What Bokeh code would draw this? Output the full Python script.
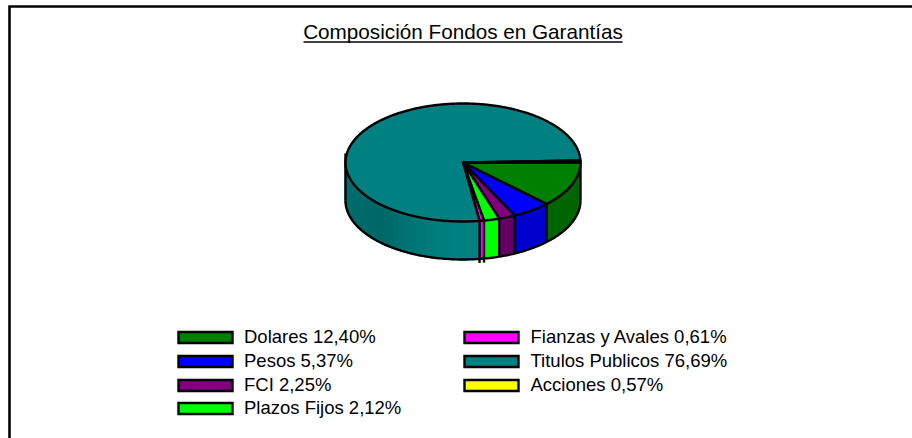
import numpy as np
from bokeh.plotting import figure
from bokeh.models import Range1d
from bokeh.core.properties import value
from bokeh.embed import file_html
from bokeh.resources import INLINE

title = "Composición Fondos en Garantías"
categories = ["Dolares", "Pesos", "FCI", "Plazos Fijos", "Fianzas y Avales", "Titulos Publicos", "Acciones"]
percent_labels = ["12,40%", "5,37%", "2,25%", "2,12%", "0,61%", "76,69%", "0,57%"]
values = [12.40, 5.37, 2.25, 2.12, 0.61, 76.69, 0.57]
colors = ["#008000", "#0000FF", "#800080", "#00FF00", "#FF00FF", "#008080", "#FFFF00"]
side_factor = [0.78, 0.80, 0.78, 1.0, 1.0, 1.0, 0.8]

W, H = 912, 438
CX, CY, RX, RY, DEPTH = 462.5, 162, 117.5, 59, 38
FONT = value("Liberation Sans")

p = figure(width=W, height=H, x_range=Range1d(0, W), y_range=Range1d(H, 0),
           toolbar_location=None, output_backend="svg", min_border=0,
           outline_line_color=None, background_fill_color="white")
p.axis.visible = False
p.grid.visible = False
p.styles = {"position": "absolute", "left": "0px", "top": "0px"}

# frame
p.line([9, 9, W], [H, 6, 6], line_color="#000000", line_width=2.6, line_join="miter")

def rim(a):
    r = np.radians(a)
    return CX + RX * np.cos(r), CY + RY * np.sin(r)

def scale(c, f):
    rgb = [int(c[i:i + 2], 16) for i in (1, 3, 5)]
    return "#%02x%02x%02x" % tuple(int(round(v * f)) for v in rgb)

edges = np.concatenate([[0.0], np.cumsum(values)]) * 3.6

def teal_shade(a):
    return np.interp(a, [80, 95, 115, 135, 160, 180], [1.0, 1.0, 0.92, 0.80, 0.84, 0.90])

# side faces
for i, (c, f) in enumerate(zip(colors, side_factor)):
    a0, a1 = edges[i], min(edges[i + 1], 180)
    if a0 >= 180:
        continue
    if i == 5:
        steps = np.append(np.arange(a0, a1, 3.0), a1)
        for s0, s1 in zip(steps[:-1], steps[1:]):
            x0, y0 = rim(s0)
            x1, y1 = rim(s1)
            col = scale(c, teal_shade((s0 + s1) / 2))
            p.patch([x0, x1, x1, x0], [y0, y1, y1 + DEPTH, y0 + DEPTH], fill_color=col,
                    line_color=col, line_width=1.5)
    else:
        a = np.linspace(a0, a1, 40)
        x, y = rim(a)
        p.patch(np.r_[x, x[::-1]], np.r_[y, (y + DEPTH)[::-1]], fill_color=scale(c, f),
                line_color=None)

# side outline
arc = np.linspace(0, 180, 181)
ax, ay = rim(arc)
p.line(ax, ay + DEPTH, line_color="black", line_width=2.4)
p.line([CX + RX, CX + RX], [CY, CY + DEPTH], line_color="black", line_width=2.4)
p.line([CX - RX, CX - RX], [CY - 9, CY + DEPTH], line_color="black", line_width=2.4)
for i, e in enumerate(edges[1:6]):
    x, y = rim(e)
    extra = 4 if i >= 3 else 0
    p.line([x, x], [y, y + DEPTH + extra], line_color="black", line_width=2.4)

# top wedges
for i, c in enumerate(colors):
    a = np.linspace(edges[i], edges[i + 1], max(2, int((edges[i + 1] - edges[i]) * 2)))
    x, y = rim(a)
    p.patch(np.r_[CX, x], np.r_[CY, y], fill_color=c, line_color="black",
            line_width=2.4, line_join="round")

# title
p.text([462.5], [31], text=[title], text_font=FONT, text_font_size="20.7px",
       text_align="center", text_baseline="middle", text_color="black")
p.line([303, 622], [41.5, 41.5], line_color="black", line_width=1.4)

# legend
col_pos = [(178, 243.5), (464, 530)]
row_y = [337, 361, 385, 408]
rows = [(0, 0), (0, 1), (0, 2), (0, 3), (1, 0), (1, 1), (1, 2)]
for (cn, rw), name, lab, c in zip(rows, categories, percent_labels, colors):
    sx, tx = col_pos[cn]
    y = row_y[rw]
    p.quad(left=[sx], right=[sx + 54], top=[y - 5.5], bottom=[y + 5.5], fill_color=c,
           line_color="black", line_width=2.4, line_join="miter")
    p.text([tx], [y - 1.5], text=[f"{name} {lab}"], text_font=FONT, text_font_size="18.5px",
           text_align="left", text_baseline="middle", text_color="black")

open("out.html", "w").write(file_html(p, INLINE))
